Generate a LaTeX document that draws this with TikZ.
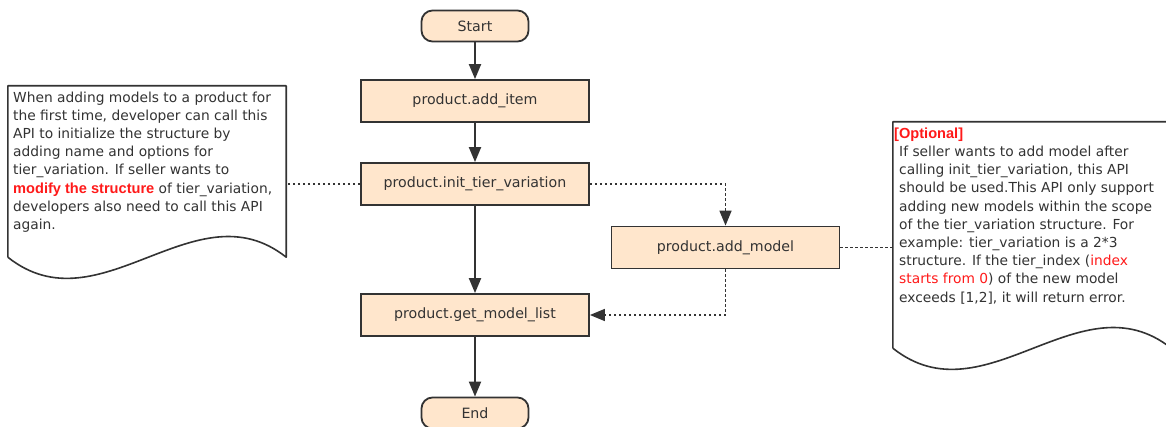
\documentclass[tikz,border=0pt]{standalone}
\usepackage{fontspec}
\setmainfont{DejaVu Sans}
\newfontfamily\hlfont{Liberation Sans}
\usetikzlibrary{positioning}
\usetikzlibrary{arrows.meta}
\definecolor{peach}{HTML}{FFE6CC}
\definecolor{inkgray}{HTML}{333333}
\definecolor{notered}{HTML}{FF1A1A}
\tikzset{
    mybox/.style = {rectangle, line width=1.8pt, draw=inkgray, align=center, fill=peach, minimum width=228pt, minimum height=42pt, font=\fontsize{14.2}{16}\selectfont, text=inkgray},
    myterm/.style = {rectangle, rounded corners=11pt, line width=1.8pt, draw=inkgray, align=center, fill=peach, minimum width=107pt, minimum height=31pt, font=\fontsize{14.2}{16}\selectfont, text=inkgray},
    mynote/.style = {rectangle, draw=none, minimum width=278pt, inner sep=0pt},
    mytext/.style = {anchor=north west, inner sep=0pt, align=left, font=\fontsize{13.8}{18.2}\selectfont, text=inkgray},
    notepath/.style = {line width=1.6pt, draw=inkgray, fill=white, line join=round},
    edgen/.style = {-{Triangle[length=15pt,width=12pt]}, line width=2pt, inkgray}, % flow
    edged/.style = {-{Triangle[length=15pt,width=12pt]}, line width=1.6pt, inkgray, dash pattern=on 2.5pt off 2.5pt}, % optional
    edgedn/.style = {-, line width=1.6pt, inkgray, dash pattern=on 2.5pt off 2.5pt}, % comment
}
\newcommand{\hlbold}[1]{{\hlfont\bfseries\fontsize{14.6}{18.2}\selectfont\color{notered}#1}}
\begin{document}
\begin{tikzpicture}[x=1pt,y=-1pt]
\useasboundingbox (0,0) rectangle (1166,427);
\node[myterm] at (475.0, 26.0) (start) {Start};
\node[mybox] at (475.0, 101.0) (additem) {product.add\_item};
\node[mybox] at (475.0, 184.0) (inittier) {product.init\_tier\_variation};
\node[mybox] at (725.5, 247.5) (addmodel) {product.add\_model};
\node[mybox] at (475.0, 315.0) (getlist) {product.get\_model\_list};
\node[myterm] at (475.0, 413.0) (endn) {End};
%
\node[mynote, minimum height=171pt] at (147.0, 171.5) (noteL) {};
\draw[notepath] (noteL.south west) -- (noteL.north west) -- (noteL.north east) -- (noteL.south east)
    .. controls +(-91,-72) and +(92,73) .. (noteL.south west);
\node[mytext] at (13.0, 91.5) (textL) {When adding models to a product for\\
the first time, developer can call this\\
API to initialize the structure by\\
adding name and options for\\
tier\_variation. If seller wants to\\
\hlbold{modify the structure} of tier\_variation,\\
developers also need to call this API\\
again.};
%
\node[mynote, minimum height=226pt] at (1032.0, 235.0) (noteR) {};
\draw[notepath] (noteR.south west) -- (noteR.north west) -- (noteR.north east) -- (noteR.south east)
    .. controls +(-91,-72) and +(92,73) .. (noteR.south west);
\node[mytext] at (899.0, 127.5) (textR) {\hspace*{-5pt}\hlbold{[Optional]}\\
If seller wants to add model after\\
calling init\_tier\_variation, this API\\
should be used.This API only support\\
adding new models within the scope\\
of the tier\_variation structure. For\\
example: tier\_variation is a 2*3\\
structure. If the tier\_index ({\color{notered}index}\\
{\color{notered}starts from 0}) of the new model\\
exceeds [1,2], it will return error.};
%
\draw[edgen] (start) edge node {} (additem);
\draw[edgen] (additem) edge node {} (inittier);
\draw[edgen] (inittier) edge node {} (getlist);
\draw[edgen] (getlist) edge node {} (endn);
\draw[edged] (inittier.east) -| (addmodel.north);
\draw[edged] (addmodel.south) |- (getlist.east);
\draw[edgedn] (inittier.west) -- (inittier.west -| noteL.east);
\draw[edgedn] (addmodel.east) -- (addmodel.east -| noteR.west);
\end{tikzpicture}
\end{document}
